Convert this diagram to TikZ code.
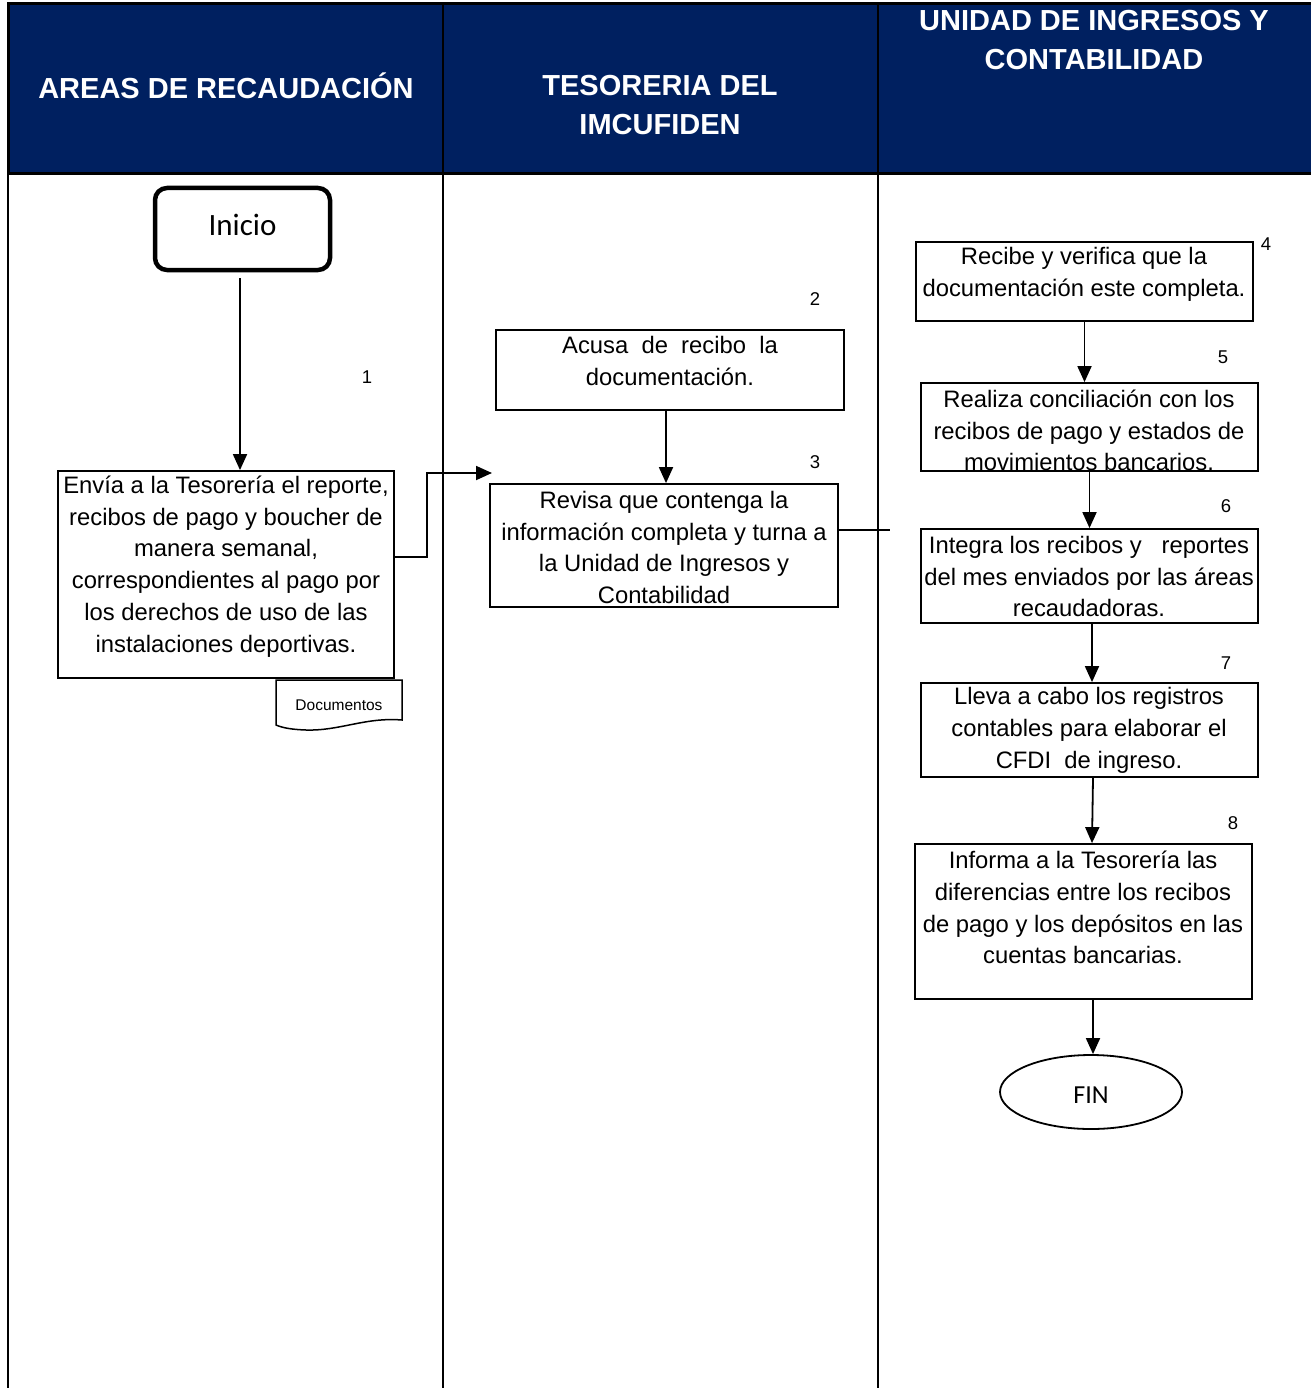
\documentclass[tikz,border=0pt]{standalone}
\usepackage{fontspec}
\setmainfont{Liberation Sans}
\newfontfamily\calibri{Carlito}
\usetikzlibrary{arrows.meta,calc,shapes.geometric}
\definecolor{navy}{RGB}{0,32,96}
\begin{document}
\begin{tikzpicture}[x=1pt,y=-1pt,
  lane/.style={line width=2pt},
  head/.style={text=white,font=\fontsize{29}{39}\selectfont\bfseries,align=center,inner sep=0},
  box/.style={draw,line width=1.8pt,inner sep=0},
  txt/.style={font=\fontsize{23.8}{31.7}\selectfont,align=center,inner sep=0},
  num/.style={font=\fontsize{18.5}{20}\selectfont,inner sep=0},
  arr/.style={line width=1.8pt,-{Triangle[length=16pt,width=14pt]}},
  link/.style={line width=1.8pt}]

\useasboundingbox (0,0) rectangle (1310,1388);
\fill[white] (0,0) rectangle (1310,1388);

% header band and swimlane dividers
\fill[navy] (8,4) rectangle (1312,174);
\draw[line width=3pt] (1312,4) -- (8,4) -- (8,174) -- (1312,174);
\draw[lane] (8,174) -- (8,1392);
\draw[lane] (443,4) -- (443,1392);
\draw[lane] (878,4) -- (878,1392);

\node[head] (h1) at (226,86) {AREAS DE RECAUDACIÓN};
\node[head] (h2) at (660,105.5) {TESORERIA DEL\\IMCUFIDEN};
\node[head] (h3) at (1094,40.5) {UNIDAD DE INGRESOS Y\\CONTABILIDAD};

% start terminal
\node[draw,line width=4.5pt,rounded corners=12pt,minimum width=175pt,minimum height=82pt,inner sep=0] (inicio) at (242.5,229) {};
\node[font=\calibri\fontsize{31}{36}\selectfont,inner sep=0] (tinicio) at (242.5,225) {Inicio};

% process boxes
\node[box,minimum width=336pt,minimum height=207pt] (b1) at (226,574.5) {};
\node[txt] (t1) at (226,566.5) {Envía a la Tesorería el reporte,\\recibos de pago y boucher de\\manera semanal,\\correspondientes al pago por\\los derechos de uso de las\\instalaciones deportivas.};

\node[box,minimum width=348pt,minimum height=80pt] (b2) at (670,370) {};
\node[txt] (t2) at (670,361) {Acusa\ \ de\ \ recibo\ \ la\\documentación.};

\node[box,minimum width=348pt,minimum height=123pt] (b3) at (664,545.5) {};
\node[txt] (t3) at (664,547.5) {Revisa que contenga la\\información completa y turna a\\la Unidad de Ingresos y\\Contabilidad};

\node[box,minimum width=337pt,minimum height=79pt] (b4) at (1084.5,281.5) {};
\node[txt] (t4) at (1084,274) {Recibe y verifica que la\\documentación este completa.};

\node[box,minimum width=337pt,minimum height=88pt] (b5) at (1089.5,427) {};
\node[txt] (t5) at (1089,430.5) {Realiza conciliación con los\\recibos de pago y estados de\\movimientos bancarios.};

\node[box,minimum width=337pt,minimum height=94pt] (b6) at (1089.5,576) {};
\node[txt] (t6) at (1089,576.5) {Integra los recibos y\ \ \ reportes\\del mes enviados por las áreas\\recaudadoras.};

\node[box,minimum width=337pt,minimum height=94pt] (b7) at (1089.5,730) {};
\node[txt] (t7) at (1089,730.5) {Lleva a cabo los registros\\contables para elaborar el\\CFDI\ \ de ingreso.};

\node[box,minimum width=337pt,minimum height=155pt] (b8) at (1083.5,921.5) {};
\node[txt] (t8) at (1083,907.5) {Informa a la Tesorería las\\diferencias entre los recibos\\de pago y los depósitos en las\\cuentas bancarias.};

% end terminal
\node[draw,ellipse,line width=1.8pt,minimum width=182pt,minimum height=74pt,inner sep=0] (fin) at (1091,1092) {};
\node[font=\calibri\fontsize{26}{30}\selectfont,inner sep=0] (tfin) at (1091,1095) {FIN};

% document symbol
\draw[line width=1.5pt,fill=white] (276,680) -- (402,680) -- (402,720)
  .. controls (365,717) and (340,731) .. (306,730)
  .. controls (292,729.5) and (283,728) .. (276,725) -- cycle;
\node[font=\fontsize{15.5}{18}\selectfont,inner sep=0] (doc) at (339,705) {Documentos};

% step numbers
\node[num] (n1) at (367,377) {1};
\node[num] (n2) at (815,299) {2};
\node[num] (n3) at (815,462) {3};
\node[num] (n4) at (1266,244) {4};
\node[num] (n5) at (1223,357) {5};
\node[num] (n6) at (1226,506) {6};
\node[num] (n7) at (1226,663) {7};
\node[num] (n8) at (1233,823) {8};

% connector anchor points
\coordinate (s0) at ($(inicio.south)+(-2.5,6)$);
\coordinate (s1) at ($(b1.east)+(0,-17.5)$);
\coordinate (in3) at (492,473);
\coordinate (s2) at ($(b2.south)+(-4,0)$);
\coordinate (s3) at ($(b3.east)+(0,-15.5)$);
\coordinate (out3) at (890,530);
\coordinate (s6) at ($(b6.south)+(2.5,0)$);
\coordinate (s7) at ($(b7.south)+(3.5,0)$);
\coordinate (e7) at ($(b8.north)+(8.5,0)$);
\coordinate (s8) at ($(b8.south)+(9.5,0)$);

% connectors
\draw[arr] (s0) -- (s0 |- b1.north);
\draw[arr] (s1) -- ++(32,0) |- (in3);
\draw[arr] (s2) -- (s2 |- b3.north);
\draw[link] (s3) -- (out3);
\draw[arr] (b4.south) -- (b4.south |- b5.north);
\draw[arr] (b5.south) -- (b5.south |- b6.north);
\draw[arr] (s6) -- (s6 |- b7.north);
\draw[arr] (s7) -- (e7);
\draw[arr] (s8) -- (s8 |- fin.north);
\end{tikzpicture}
\end{document}
